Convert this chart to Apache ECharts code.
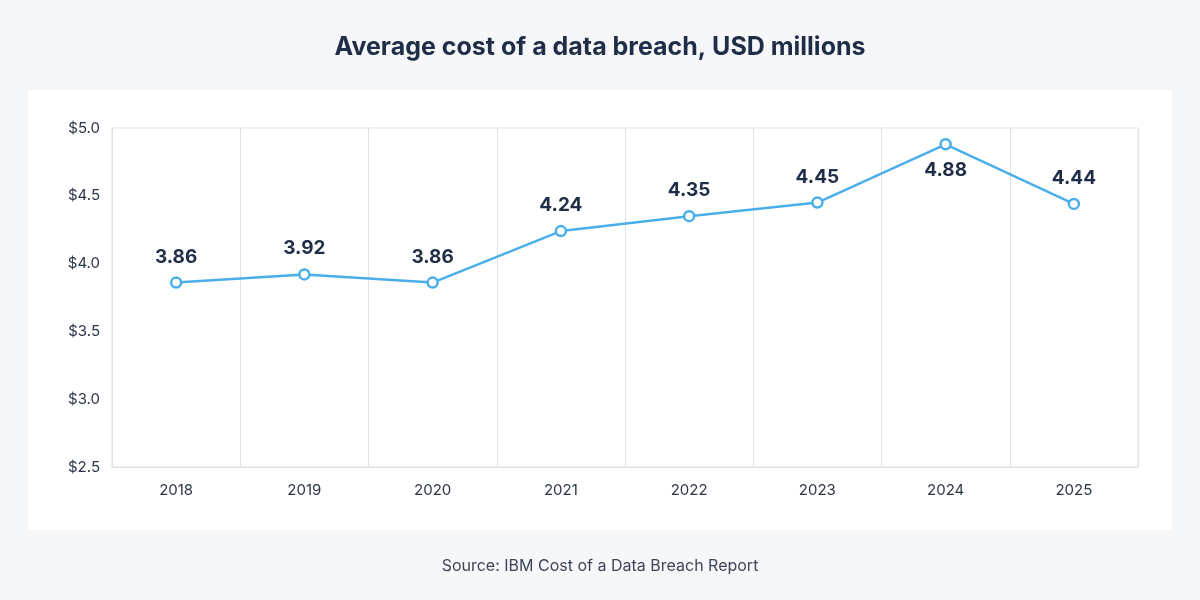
<!DOCTYPE html>
<html>
<head>
<meta charset="utf-8">
<script src="https://cdn.jsdelivr.net/npm/echarts@6/dist/echarts.min.js"></script>
<style>
  html, body { margin: 0; padding: 0; background: #f6f7f9; }
  #panel { position: absolute; left: 28px; top: 90px; width: 1144px; height: 440px; background: #fff; }
  #chart { position: absolute; left: 0; top: 0; width: 1200px; height: 600px; }
</style>
</head>
<body>
<div id="panel"></div>
<div id="chart"></div>
<script>
const years = ['2018', '2019', '2020', '2021', '2022', '2023', '2024', '2025'];
const costs = [3.86, 3.92, 3.86, 4.24, 4.35, 4.45, 4.88, 4.44];

const chart = echarts.init(document.getElementById('chart'));
const textColor = '#1f2d47';
const font = 'Inter, "Open Sans", sans-serif';

// the 2024 label sits under its point in the reference
const points = costs.map((v, i) => i === 6
    ? { value: v, label: { position: 'bottom', distance: 10 } }
    : v);

chart.setOption({
    textStyle: { fontFamily: font },
    title: [{
        text: 'Average cost of a data breach, USD millions',
        left: 'center', top: 30,
        textStyle: { fontSize: 25, fontWeight: 'bold', color: textColor, fontFamily: font }
    }, {
        text: 'Source: IBM Cost of a Data Breach Report',
        left: 'center', top: 553,
        textStyle: { fontSize: 16, fontWeight: 'normal', color: '#3c4658', fontFamily: font }
    }],
    grid: {
        left: 112, right: 62, top: 128, bottom: 133,
        show: true, borderColor: '#dde2e8', borderWidth: 1
    },
    xAxis: {
        type: 'category',
        data: years,
        boundaryGap: true,
        axisLine: { lineStyle: { color: '#dde2e8' } },
        axisTick: { show: false },
        axisLabel: { color: '#2c3547', fontSize: 15, margin: 16 },
        splitLine: { show: true, lineStyle: { color: '#dde2e8' } }
    },
    yAxis: {
        type: 'value',
        min: 2.5, max: 5.0, interval: 0.5,
        axisLine: { show: true, lineStyle: { color: '#dde2e8' } },
        axisTick: { show: false },
        splitLine: { show: false },
        axisLabel: { color: '#2c3547', fontSize: 15, margin: 12,
            formatter: v => '$' + v.toFixed(1) }
    },
    series: [{
        type: 'line',
        data: points,
        symbol: 'circle',
        symbolSize: 10,
        lineStyle: { color: '#4aaeea', width: 2.5 },
        itemStyle: { color: '#fff', borderColor: '#4aaeea', borderWidth: 2.5 },
        label: {
            show: true, position: 'top', distance: 10,
            color: textColor, fontSize: 19, fontWeight: 'bold',
            formatter: p => (typeof p.value === 'number' ? p.value : p.data.value).toFixed(2)
        }
    }]
});
</script>
</body>
</html>
